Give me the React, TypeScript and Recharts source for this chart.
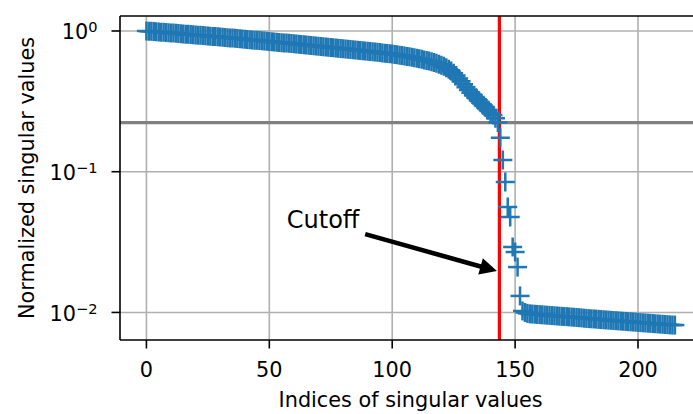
import { ScatterChart, Scatter, XAxis, YAxis, CartesianGrid, ReferenceLine, ReferenceDot } from "recharts";

// normalized singular values (index = position in the list)
const SINGULAR_VALUES = [
  1.0, 0.997, 0.994, 0.991, 0.988, 0.984, 0.981, 0.978, 0.975, 0.972,
  0.969, 0.966, 0.962, 0.959, 0.956, 0.953, 0.95, 0.947, 0.944, 0.94,
  0.937, 0.934, 0.931, 0.928, 0.925, 0.921, 0.918, 0.915, 0.912, 0.909,
  0.906, 0.902, 0.899, 0.896, 0.893, 0.89, 0.887, 0.883, 0.88, 0.877,
  0.874, 0.871, 0.867, 0.864, 0.861, 0.858, 0.855, 0.852, 0.848, 0.845,
  0.842, 0.839, 0.836, 0.833, 0.83, 0.826, 0.823, 0.82, 0.817, 0.814,
  0.811, 0.807, 0.804, 0.801, 0.798, 0.795, 0.792, 0.789, 0.785, 0.782,
  0.779, 0.776, 0.773, 0.77, 0.767, 0.763, 0.76, 0.757, 0.754, 0.751,
  0.748, 0.745, 0.742, 0.739, 0.735, 0.732, 0.729, 0.726, 0.723, 0.72,
  0.717, 0.714, 0.711, 0.708, 0.705, 0.702, 0.699, 0.695, 0.692, 0.689,
  0.686, 0.682, 0.677, 0.673, 0.669, 0.664, 0.66, 0.655, 0.65, 0.645,
  0.64, 0.635, 0.629, 0.623, 0.617, 0.611, 0.604, 0.597, 0.589, 0.581,
  0.571, 0.561, 0.549, 0.535, 0.52, 0.501, 0.482, 0.46, 0.439, 0.419,
  0.399, 0.381, 0.364, 0.349, 0.335, 0.322, 0.309, 0.297, 0.286, 0.275,
  0.264, 0.253, 0.24, 0.224, 0.174, 0.121, 0.0845, 0.0561, 0.0477, 0.0292,
  0.0269, 0.021, 0.0131, 0.01024, 0.00999, 0.00985, 0.00977, 0.00974, 0.00971, 0.00968,
  0.00965, 0.00962, 0.00959, 0.00956, 0.00953, 0.0095, 0.00947, 0.00944, 0.00941, 0.00938,
  0.00935, 0.00933, 0.0093, 0.00927, 0.00924, 0.00921, 0.00918, 0.00915, 0.0091, 0.00907,
  0.00904, 0.00901, 0.00899, 0.00896, 0.00893, 0.0089, 0.00887, 0.00885, 0.00882, 0.00879,
  0.00876, 0.00874, 0.00871, 0.00868, 0.00866, 0.00863, 0.0086, 0.00858, 0.00855, 0.00852,
  0.0085, 0.00847, 0.00844, 0.00842, 0.00839, 0.00837, 0.00834, 0.00831, 0.00829, 0.00826,
  0.00824, 0.00821, 0.00819, 0.00816, 0.00814, 0.00813,
];

const X_TICKS = [0, 50, 100, 150, 200];
const Y_MAJOR = [0.01, 0.1, 1];
const Y_MINOR = [
  0.007, 0.008, 0.009,
  0.02, 0.03, 0.04, 0.05, 0.06, 0.07, 0.08, 0.09,
  0.2, 0.3, 0.4, 0.5, 0.6, 0.7, 0.8, 0.9,
];
const X_DOMAIN = [-10.75, 225.75];
const Y_DOMAIN = [0.00637, 1.278];

const CUTOFF_INDEX = 143.6;
const CUTOFF_VALUE = 0.223;
const ARROW_FROM = { x: 89, y: 0.036 };
const ARROW_TO = { x: 142.6, y: 0.0197 };
const CUTOFF_TEXT = { x: 57.1, y: 0.0398 };

const FONT = "DejaVu Sans";
const BLUE = "#1f77b4";

const points = SINGULAR_VALUES.map((v, i) => ({ x: i, y: v }));

function PlusMarker(props: any) {
  const { cx, cy } = props;
  if (cx == null || cy == null) return null;
  const h = 9.5;
  return (
    <g stroke={BLUE} strokeWidth={2.5}>
      <line x1={cx - h} x2={cx + h} y1={cy} y2={cy} />
      <line x1={cx} x2={cx} y1={cy - h} y2={cy + h} />
    </g>
  );
}

function YTick(props: any) {
  const { x, y, payload } = props;
  const v = payload.value;
  const major = Y_MAJOR.some((m) => Math.abs(m - v) < 1e-9);
  const exp = Math.round(Math.log10(v));
  return (
    <g>
      <line x1={x - (major ? 8.5 : 5)} x2={x} y1={y} y2={y} stroke="#000" strokeWidth={1.6} />
      {major && (
        <text x={x - 22.5} y={y + 8.3} textAnchor="end" fontFamily={FONT} fontSize={20.8} fill="#000">
          10
          <tspan dy={-7} fontSize={14.6}>{exp === 0 ? "0" : "\u2212" + Math.abs(exp)}</tspan>
        </text>
      )}
    </g>
  );
}

function CutoffArrow(props: any) {
  const { x1, y1, x2, y2 } = props;
  if (x1 == null) return null;
  const dx = x2 - x1;
  const dy = y2 - y1;
  const len = Math.sqrt(dx * dx + dy * dy);
  const ux = dx / len;
  const uy = dy / len;
  const nx = -uy;
  const ny = ux;
  const headLen = 17;
  const headW = 8.5;
  const shaftW = 2.3;
  const bx = x2 - ux * headLen;
  const by = y2 - uy * headLen;
  const pts = [
    [x1 + nx * shaftW, y1 + ny * shaftW],
    [bx + nx * shaftW, by + ny * shaftW],
    [bx + nx * headW, by + ny * headW],
    [x2, y2],
    [bx - nx * headW, by - ny * headW],
    [bx - nx * shaftW, by - ny * shaftW],
    [x1 - nx * shaftW, y1 - ny * shaftW],
  ]
    .map((p) => p.join(","))
    .join(" ");
  return <polygon points={pts} fill="#000" />;
}

function CutoffLabel(props: any) {
  const { cx, cy } = props;
  if (cx == null) return null;
  return (
    <text x={cx} y={cy} fontFamily={FONT} fontSize={24} fill="#000">
      Cutoff
    </text>
  );
}

export default function App() {
  return (
    <div style={{ position: "absolute", left: 0, top: 0, width: 693, height: 414, overflow: "hidden", background: "#fff" }}>
      <ScatterChart width={710} height={414} margin={{ top: 16, right: 8.7, bottom: 0, left: 0 }}>
        <CartesianGrid stroke="#b0b0b0" strokeWidth={1.6} horizontalValues={Y_MAJOR} verticalValues={X_TICKS} />
        <XAxis
          type="number"
          dataKey="x"
          domain={X_DOMAIN}
          ticks={X_TICKS}
          allowDataOverflow
          height={74}
          tickSize={8.5}
          tickMargin={13.5}
          axisLine={{ stroke: "#000", strokeWidth: 1.6 }}
          tickLine={{ stroke: "#000", strokeWidth: 1.6 }}
          tick={{ fill: "#000", fontSize: 20.8, fontFamily: FONT }}
          label={{ value: "Indices of singular values", position: "insideBottom", offset: 7, fill: "#000", fontSize: 20.8, fontFamily: FONT }}
        />
        <YAxis
          type="number"
          dataKey="y"
          scale="log"
          domain={Y_DOMAIN}
          ticks={[...Y_MINOR, ...Y_MAJOR]}
          allowDataOverflow
          width={120}
          tickSize={0}
          tickMargin={0}
          tickLine={false}
          axisLine={{ stroke: "#000", strokeWidth: 1.6 }}
          tick={<YTick />}
          label={{ value: "Normalized singular values", angle: -90, position: "insideLeft", offset: 27, fill: "#000", fontSize: 20.8, fontFamily: FONT, style: { textAnchor: "middle" } }}
        />
        <Scatter data={points} shape={<PlusMarker />} isAnimationActive={false} />
        <ReferenceLine y={CUTOFF_VALUE} stroke="#808080" strokeWidth={3.2} />
        <ReferenceLine x={CUTOFF_INDEX} stroke="#ff0000" strokeWidth={3.2} />
        <ReferenceLine y={Y_DOMAIN[1]} stroke="#000" strokeWidth={1.6} />
        <ReferenceLine
          segment={[ARROW_FROM, ARROW_TO]}
          shape={(p: any) => <CutoffArrow {...p} />}
        />
        <ReferenceDot x={CUTOFF_TEXT.x} y={CUTOFF_TEXT.y} r={0} shape={(p: any) => <CutoffLabel {...p} />} />
      </ScatterChart>
    </div>
  );
}
